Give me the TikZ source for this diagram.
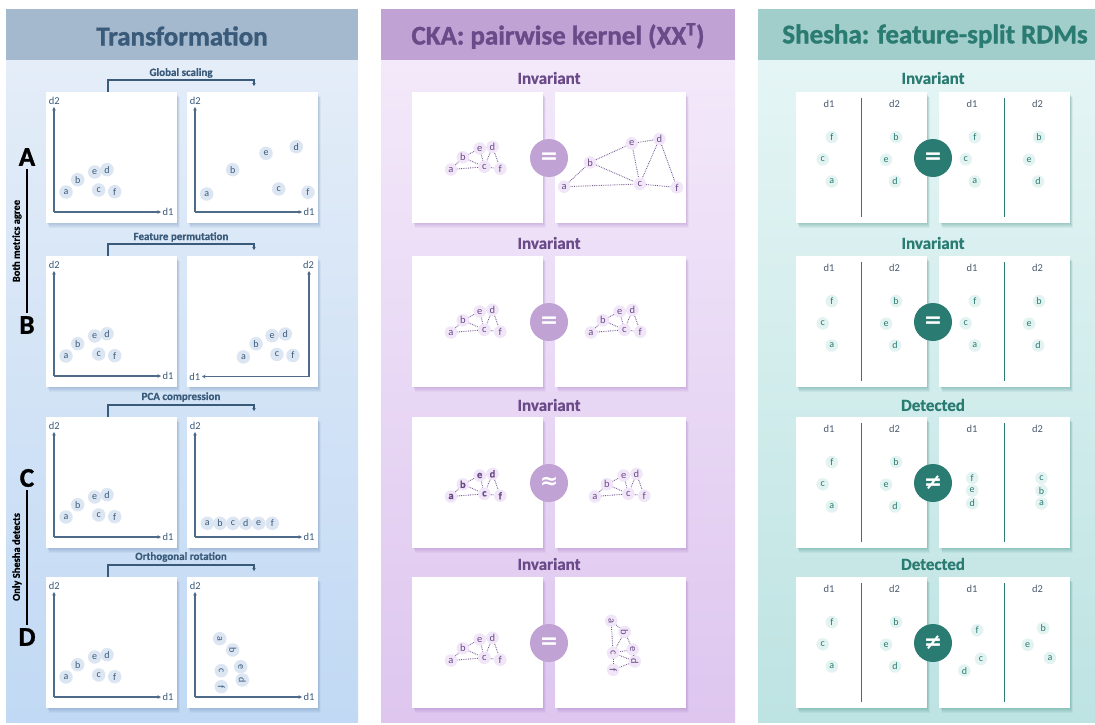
\documentclass[tikz,border=0pt]{standalone}
\usepackage{fontspec}
\setmainfont{Carlito}[BoldFeatures={FakeBold=0.5}]
\newfontfamily\headfont{Carlito}[BoldFeatures={FakeBold=1.2}]
\newfontfamily\symfont{DejaVu Sans}
\usetikzlibrary{arrows.meta}

% palette
\definecolor{tDark}{HTML}{3A5A7A}
\definecolor{tAxis}{HTML}{4E6C8A}
\definecolor{tHead}{HTML}{A4B9CE}
\definecolor{tTop}{HTML}{E4EDF8}
\definecolor{tBot}{HTML}{C1D9F4}
\definecolor{tPt}{HTML}{DCE6F3}
\definecolor{tShadow}{HTML}{5A7EA8}
\definecolor{cDark}{HTML}{6A4A88}
\definecolor{cHead}{HTML}{C0A2D4}
\definecolor{cTop}{HTML}{F3E9FA}
\definecolor{cBot}{HTML}{DEC6EF}
\definecolor{cPt}{HTML}{F1E5F8}
\definecolor{cShadow}{HTML}{9A6CBC}
\definecolor{sDark}{HTML}{2A7B71}
\definecolor{sHead}{HTML}{A1CDCA}
\definecolor{sTop}{HTML}{E5F5F5}
\definecolor{sBot}{HTML}{BDE3E2}
\definecolor{sPt}{HTML}{E2F3F1}
\definecolor{sShadow}{HTML}{2E7E76}
\definecolor{axisLbl}{HTML}{4A5C70}

\newcommand{\setfs}[1]{\fontsize{#1}{#1}\selectfont}

\tikzset{
  panelbox/.style={rectangle, fill=white, minimum width=130.5pt, minimum height=130.5pt,
    anchor=north west, inner sep=0pt, outer sep=0pt},
  coltitle/.style={font=\headfont\setfs{27}\bfseries},
  steplabel/.style={font=\setfs{11}\bfseries, text=tDark},
  verdict/.style={font=\setfs{17}\bfseries},
  rowletter/.style={font=\headfont\setfs{27}\bfseries, text=black},
  grouplabel/.style={font=\setfs{10.5}\bfseries, text=black, rotate=90},
  groupline/.style={draw=black, line width=1.2pt},
  tpt/.style={circle, fill=tPt, text=tDark, inner sep=0pt, minimum size=13.5pt, font=\setfs{10}},
  cpt/.style={circle, fill=cPt, text=cDark, inner sep=0pt, minimum size=12.5pt, font=\setfs{10.5}},
  spt/.style={circle, fill=sPt, text=sDark, inner sep=0pt, minimum size=12.5pt, font=\setfs{10}},
  axisline/.style={draw=tAxis, line width=1.1pt, -{Stealth[length=3.5pt,width=3.5pt]}},
  axislabel/.style={text=tDark, font=\setfs{10.5}, inner sep=0pt},
  kedge/.style={draw=cDark!90, line width=0.9pt, dash pattern=on 0.8pt off 1pt},
  bracket/.style={draw=tDark, line width=1.1pt, -{Stealth[length=3pt,width=3.5pt]}},
  cmpcircle/.style={circle, minimum size=38pt, inner sep=0pt, text=white,
    font=\symfont\setfs{22}\bfseries},
  splitline/.style={draw=sDark, line width=1.3pt},
  rdmlabel/.style={text=axisLbl, font=\setfs{10.5}, inner sep=0pt},
}

% white card with a soft shadow below/right
\newcommand{\drawpanel}[4]{%
  \foreach \k in {1,...,6}{\fill[#4, opacity=0.075] (#2+0.5*\k,#3+0.9*\k) rectangle ++(130.5,130.5);}%
  \node[panelbox] (#1) at (#2,#3) {};}

% scatter axes (d1 to the right / mirrored d1 to the left)
\newcommand{\plotaxes}[1]{%
  \coordinate (#1o) at (8,120); \coordinate (#1y) at (8,15); \coordinate (#1x) at (115,120);
  \draw[axisline] (#1o) -- (#1y); \draw[axisline] (#1o) -- (#1x);
  \node[axislabel, anchor=west] (#1d1) at (116.5,120) {d1};
  \node[axislabel] (#1d2) at (8.3,8.5) {d2};}
\newcommand{\plotaxesflip}[1]{%
  \coordinate (#1o) at (122,120.5); \coordinate (#1y) at (122,15); \coordinate (#1x) at (15,120.5);
  \draw[axisline] (#1o) -- (#1y); \draw[axisline] (#1o) -- (#1x);
  \node[axislabel, anchor=east] (#1d1) at (13.5,120.5) {d1};
  \node[axislabel] (#1d2) at (121.5,8.5) {d2};}

% labelled points: prefix, style, list macro
\newcommand{\placepts}[3]{\foreach \n/\px/\py in #3 {\node[#2] (#1\n) at (\px,\py) {\n};}}

% kernel graph edges
\newcommand{\kerneledges}[1]{\foreach \u/\v in {a/b,a/c,b/e,b/c,e/d,e/c,d/c,d/f,c/f}{\draw[kedge] (#1\u) -- (#1\v);}}

% feature-split RDM card: divider and feature headings
\newcommand{\rdmframe}[1]{%
  \coordinate (#1top) at (65.5,6); \coordinate (#1bot) at (65.5,124.5);
  \draw[splitline] (#1top) -- (#1bot);
  \node[rdmlabel] (#1d1) at (33,11.5) {d1};
  \node[rdmlabel] (#1d2) at (98.6,11.5) {d2};}

% point sets
\def\tstd{a/20/100,b/31.7/87.7,e/48.7/80,d/61/77.7,c/52.7/98,f/68.7/99.7}
\def\tscaled{a/19.7/102,b/45.7/77.7,e/79/61.3,d/109.3/54.7,c/91.7/97,f/121/100.3}
\def\tperm{a/56.4/100.9,b/69.1/87.8,e/85.2/79.7,d/98.3/78,c/89.9/98.5,f/106/99.5}
\def\tpca{a/20.3/106.3,b/33/106.3,c/46/106.3,d/58.7/106.3,e/71.7/106.3,f/85.3/106.3}
\def\trot{a/32.7/61.7,b/45.7/73,c/34.3/93.7,e/53.7/89.7,d/55.3/103,f/34.3/109.7}
\def\kstd{a/39/77.5,b/50.8/65.3,e/67.7/56.5,d/80.5/54.8,c/72.4/74.8,f/88.3/76.8}
\def\kscaled{a/9.1/94.7,b/35.1/70.4,e/76.7/51.4,d/104.4/47,c/84.8/92,f/122/95.4}
\def\krot{a/56.1/43.8,b/69.6/55,e/77.7/72.5,c/58.1/75.9,d/79.7/84.4,f/58.1/92.8}
\def\sstd{f/35.8/45.1,c/26.7/67.3,a/35.8/89.5,b/100.1/45.1,e/90/67.7,d/99.1/89.5}
\def\spca{f/33.2/61,e/33.2/73.6,d/33.2/86.4,c/102.5/61,b/102.5/73.6,a/102.5/86.4}
\def\srot{f/38.2/53.2,c/41.9/81.9,d/25.4/93.6,b/104.2/51.2,e/88.7/67.8,a/111/81}

\begin{document}
\begin{tikzpicture}[x=1pt,y=-1pt]
\useasboundingbox (0,0) rectangle (1095,725);
\fill[white] (0,0) rectangle (1095,725);

% ---------- column backgrounds and titles ----------
\fill[tHead] (6,9) rectangle (358,61);
\shade[top color=tTop, bottom color=tBot] (6,61) rectangle (358,722);
\node[coltitle, text=tDark] (titleT) at (182,36) {Transformation};

\fill[cHead] (381,9) rectangle (735,61);
\shade[top color=cTop, bottom color=cBot] (381,61) rectangle (735,722);
\node[coltitle, text=cDark] (titleK) at (558,36) {CKA: pairwise kernel (XX\textsuperscript{T})};

\fill[sHead] (758,9) rectangle (1095,61);
\shade[top color=sTop, bottom color=sBot] (758,61) rectangle (1095,722);
\node[coltitle, text=sDark] (titleS) at (935,36) {Shesha: feature-split RDMs};

% ---------- row groups ----------
\node[rowletter] (rowA) at (27,157) {A};
\node[rowletter] (rowB) at (27,325) {B};
\node[rowletter] (rowC) at (27,478) {C};
\node[rowletter] (rowD) at (27,637) {D};
\draw[groupline] (rowA.south) -- (rowB.north);
\draw[groupline] (rowC.south) -- (rowD.north);
\node[grouplabel] (grpAB) at (17,241) {Both metrics agree};
\node[grouplabel] (grpCD) at (17,557) {Only Shesha detects};

% ---------- transformation column ----------
% row A: global scaling
\node[steplabel] (stepA) at (181,73) {Global scaling};
\drawpanel{tAL}{46}{92}{tShadow}
\drawpanel{tAR}{187}{92}{tShadow}
\coordinate (brAs) at (108,92); \coordinate (brAe) at (254,86);
\draw[bracket] (brAs) -- ++(0,-12) -| (brAe);
\begin{scope}[shift={(46,92)}]\plotaxes{tAL}\placepts{tALp}{tpt}{\tstd}\end{scope}
\begin{scope}[shift={(187,92)}]\plotaxes{tAR}\placepts{tARp}{tpt}{\tscaled}\end{scope}

% row B: feature permutation
\node[steplabel] (stepB) at (181,237) {Feature permutation};
\drawpanel{tBL}{46}{256}{tShadow}
\drawpanel{tBR}{187}{256}{tShadow}
\coordinate (brBs) at (108,256); \coordinate (brBe) at (254,250);
\draw[bracket] (brBs) -- ++(0,-12) -| (brBe);
\begin{scope}[shift={(46,256)}]\plotaxes{tBL}\placepts{tBLp}{tpt}{\tstd}\end{scope}
\begin{scope}[shift={(187,256)}]\plotaxesflip{tBR}\placepts{tBRp}{tpt}{\tperm}\end{scope}

% row C: PCA compression
\node[steplabel] (stepC) at (181,397) {PCA compression};
\drawpanel{tCL}{46}{417}{tShadow}
\drawpanel{tCR}{187}{417}{tShadow}
\coordinate (brCs) at (108,417); \coordinate (brCe) at (254,411);
\draw[bracket] (brCs) -- ++(0,-12) -| (brCe);
\begin{scope}[shift={(46,417)}]\plotaxes{tCL}\placepts{tCLp}{tpt}{\tstd}\end{scope}
\begin{scope}[shift={(187,417)}]\plotaxes{tCR}\placepts{tCRp}{tpt}{\tpca}\end{scope}

% row D: orthogonal rotation
\node[steplabel] (stepD) at (181,557) {Orthogonal rotation};
\drawpanel{tDL}{46}{577}{tShadow}
\drawpanel{tDR}{187}{577}{tShadow}
\coordinate (brDs) at (108,577); \coordinate (brDe) at (254,571);
\draw[bracket] (brDs) -- ++(0,-12) -| (brDe);
\begin{scope}[shift={(46,577)}]\plotaxes{tDL}\placepts{tDLp}{tpt}{\tstd}\end{scope}
\begin{scope}[shift={(187,577)}]\plotaxes{tDR}\placepts{tDRp}{tpt,rotate=-90}{\trot}\end{scope}

% ---------- CKA column ----------
% row A
\node[verdict, text=cDark] (kvA) at (549,78) {Invariant};
\drawpanel{kAL}{412}{92}{cShadow}
\drawpanel{kAR}{555}{92}{cShadow}
\begin{scope}[shift={(412,92)}]\placepts{kALp}{cpt}{\kstd}\kerneledges{kALp}\end{scope}
\begin{scope}[shift={(555,92)}]\placepts{kARp}{cpt}{\kscaled}\kerneledges{kARp}\end{scope}
\node[cmpcircle, fill=cHead] (kcA) at (549,158) {=};

% row B
\node[verdict, text=cDark] (kvB) at (549,243) {Invariant};
\drawpanel{kBL}{412}{256}{cShadow}
\drawpanel{kBR}{555}{256}{cShadow}
\begin{scope}[shift={(412,255)}]\placepts{kBLp}{cpt}{\kstd}\kerneledges{kBLp}\end{scope}
\begin{scope}[shift={(552,255)}]\placepts{kBRp}{cpt}{\kstd}\kerneledges{kBRp}\end{scope}
\node[cmpcircle, fill=cHead] (kcB) at (549,322) {=};

% row C
\node[verdict, text=cDark] (kvC) at (549,405) {Invariant};
\drawpanel{kCL}{412}{417}{cShadow}
\drawpanel{kCR}{555}{417}{cShadow}
\begin{scope}[shift={(412,419)}]\placepts{kCLp}{cpt,font=\setfs{10.5}\bfseries}{\kstd}\kerneledges{kCLp}\end{scope}
\begin{scope}[shift={(556,419)}]\placepts{kCRp}{cpt}{\kstd}\kerneledges{kCRp}\end{scope}
\node[cmpcircle, fill=cHead] (kcC) at (549,483) {≈};

% row D
\node[verdict, text=cDark] (kvD) at (549,564) {Invariant};
\drawpanel{kDL}{412}{577}{cShadow}
\drawpanel{kDR}{555}{577}{cShadow}
\begin{scope}[shift={(412,583)}]\placepts{kDLp}{cpt}{\kstd}\kerneledges{kDLp}\end{scope}
\begin{scope}[shift={(555,577)}]\placepts{kDRp}{cpt,rotate=-90}{\krot}\kerneledges{kDRp}\end{scope}
\node[cmpcircle, fill=cHead] (kcD) at (549,643) {=};

% ---------- Shesha column ----------
% row A
\node[verdict, text=sDark] (svA) at (933,78) {Invariant};
\drawpanel{sAL}{796}{92}{sShadow}
\drawpanel{sAR}{939}{92}{sShadow}
\begin{scope}[shift={(796,92)}]\rdmframe{sAL}\placepts{sALp}{spt}{\sstd}\end{scope}
\begin{scope}[shift={(939,92)}]\rdmframe{sAR}\placepts{sARp}{spt}{\sstd}\end{scope}
\node[cmpcircle, fill=sDark] (scA) at (933,158) {=};

% row B
\node[verdict, text=sDark] (svB) at (933,243) {Invariant};
\drawpanel{sBL}{796}{256}{sShadow}
\drawpanel{sBR}{939}{256}{sShadow}
\begin{scope}[shift={(796,256)}]\rdmframe{sBL}\placepts{sBLp}{spt}{\sstd}\end{scope}
\begin{scope}[shift={(939,256)}]\rdmframe{sBR}\placepts{sBRp}{spt}{\sstd}\end{scope}
\node[cmpcircle, fill=sDark] (scB) at (933,322) {=};

% row C
\node[verdict, text=sDark] (svC) at (933,405) {Detected};
\drawpanel{sCL}{796}{417}{sShadow}
\drawpanel{sCR}{939}{417}{sShadow}
\begin{scope}[shift={(796,417)}]\rdmframe{sCL}\placepts{sCLp}{spt}{\sstd}\end{scope}
\begin{scope}[shift={(939,417)}]\rdmframe{sCR}\placepts{sCRp}{spt}{\spca}\end{scope}
\node[cmpcircle, fill=sDark] (scC) at (933,483) {≠};

% row D
\node[verdict, text=sDark] (svD) at (933,564) {Detected};
\drawpanel{sDL}{796}{577}{sShadow}
\drawpanel{sDR}{939}{577}{sShadow}
\begin{scope}[shift={(796,577)}]\rdmframe{sDL}\placepts{sDLp}{spt}{\sstd}\end{scope}
\begin{scope}[shift={(939,577)}]\rdmframe{sDR}\placepts{sDRp}{spt}{\srot}\end{scope}
\node[cmpcircle, fill=sDark] (scD) at (933,643) {≠};
\end{tikzpicture}
\end{document}
